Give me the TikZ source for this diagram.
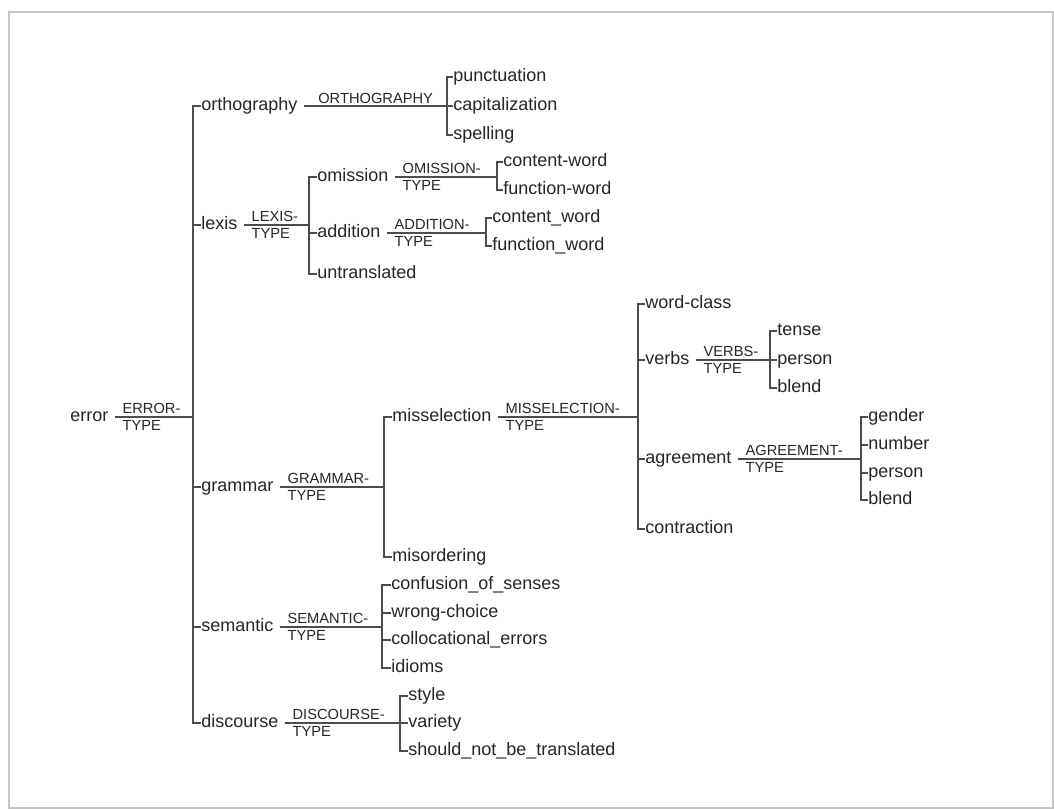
\documentclass[tikz,border=0pt]{standalone}
\usepackage{fontspec}
\setmainfont{Liberation Sans}
\usetikzlibrary{calc}

\tikzset{
  cat/.style={anchor=west, inner sep=0pt, text height=10pt, text depth=3.4pt, font=\fontsize{13.5}{16}\selectfont, text=black!85},
  typ/.style={anchor=west, inner sep=0pt, align=left, font=\fontsize{11}{12.75}\selectfont, text=black!85},
  ln/.style={draw=black!70, line width=1.1pt},
  feat/.style={ln, shorten <=4.5pt},
}

\begin{document}
\begin{tikzpicture}[x=0.75pt,y=-0.75pt]
\useasboundingbox (0,0) rectangle (1054,810);
\fill[white] (0,0) rectangle (1054,810);
\draw[black!22, line width=1.5pt] (9,12) rectangle (1053,808);

% root and first level
\node[cat] (error) at (70,417) {error};
\coordinate (bErr) at (193,417);
\node[cat] (orth) at (201,106) {orthography};
\node[cat] (lexis) at (201,225) {lexis};
\node[cat] (gram) at (201,487) {grammar};
\node[cat] (sem) at (201,627) {semantic};
\node[cat] (disc) at (201,723) {discourse};

% orthography
\coordinate (bOrth) at (447,106);
\node[cat] (punct) at (453,77) {punctuation};
\node[cat] (capit) at (453,106) {capitalization};
\node[cat] (spell) at (453,135) {spelling};

% lexis
\coordinate (bLex) at (309,225);
\node[cat] (omis) at (317,177) {omission};
\node[cat] (addi) at (317,233) {addition};
\node[cat] (untr) at (317,274) {untranslated};
\coordinate (bOmi) at (497,177);
\node[cat] (omcw) at (503,162) {content-word};
\node[cat] (omfw) at (503,190) {function-word};
\coordinate (bAdd) at (486,233);
\node[cat] (adcw) at (492,218) {content\_word};
\node[cat] (adfw) at (492,246) {function\_word};

% grammar
\coordinate (bGra) at (384,487);
\node[cat] (missel) at (392,417) {misselection};
\node[cat] (misord) at (392,557) {misordering};
\coordinate (bMis) at (638,417);
\node[cat] (wcls) at (645,304) {word-class};
\node[cat] (verbs) at (645,360) {verbs};
\node[cat] (agr) at (645,459) {agreement};
\node[cat] (contr) at (645,529) {contraction};
\coordinate (bVer) at (770,360);
\node[cat] (tense) at (777,331) {tense};
\node[cat] (vpers) at (777,360) {person};
\node[cat] (vblnd) at (777,388) {blend};
\coordinate (bAgr) at (861,459);
\node[cat] (gend) at (868,417) {gender};
\node[cat] (numb) at (868,445) {number};
\node[cat] (apers) at (868,473) {person};
\node[cat] (ablnd) at (868,500) {blend};

% semantic
\coordinate (bSem) at (382,627);
\node[cat] (conf) at (391,585) {confusion\_of\_senses};
\node[cat] (wrong) at (391,613) {wrong-choice};
\node[cat] (coll) at (391,640) {collocational\_errors};
\node[cat] (idio) at (391,668) {idioms};

% discourse
\coordinate (bDis) at (400,723);
\node[cat] (styl) at (408,696) {style};
\node[cat] (vari) at (408,723) {variety};
\node[cat] (shou) at (408,751) {should\_not\_be\_translated};

% feature lines with their type labels
\draw[feat] (error.east) -- (bErr) node[typ, pos=0, xshift=10pt] {ERROR-\\TYPE};
\draw[feat] (orth.east) -- (bOrth) node[typ, pos=0, anchor=south west, xshift=15pt, yshift=1.5pt] {ORTHOGRAPHY};
\draw[feat] (lexis.east) -- (bLex) node[typ, pos=0, xshift=10pt] {LEXIS-\\TYPE};
\draw[feat] (omis.east) -- (bOmi) node[typ, pos=0, xshift=10pt] {OMISSION-\\TYPE};
\draw[feat] (addi.east) -- (bAdd) node[typ, pos=0, xshift=10pt] {ADDITION-\\TYPE};
\draw[feat] (gram.east) -- (bGra) node[typ, pos=0, xshift=10pt] {GRAMMAR-\\TYPE};
\draw[feat] (missel.east) -- (bMis) node[typ, pos=0, xshift=10pt] {MISSELECTION-\\TYPE};
\draw[feat] (verbs.east) -- (bVer) node[typ, pos=0, xshift=10pt] {VERBS-\\TYPE};
\draw[feat] (agr.east) -- (bAgr) node[typ, pos=0, xshift=10pt] {AGREEMENT-\\TYPE};
\draw[feat] (sem.east) -- (bSem) node[typ, pos=0, xshift=10pt] {SEMANTIC-\\TYPE};
\draw[feat] (disc.east) -- (bDis) node[typ, pos=0, xshift=10pt] {DISCOURSE-\\TYPE};

% brackets: first child -| bar |- last child, ticks for the ones between
\foreach \b/\f/\l/\mid in {bErr/orth/disc/{lexis,gram,sem}, bOrth/punct/spell/{capit},
    bLex/omis/untr/{addi}, bGra/missel/misord/{}, bMis/wcls/contr/{verbs,agr},
    bVer/tense/vblnd/{vpers}, bAgr/gend/ablnd/{numb,apers}, bSem/conf/idio/{wrong,coll},
    bDis/styl/shou/{vari}}{
  \draw[ln] (\f.west) -| (\b) |- (\l.west);
  \foreach \c in \mid {\draw[ln] (\c.west) -- (\b |- \c.west);}
}
\foreach \b/\f/\l in {bOmi/omcw/omfw, bAdd/adcw/adfw}{\draw[ln] (\f.west) -| (\b) |- (\l.west);}
\end{tikzpicture}
\end{document}
